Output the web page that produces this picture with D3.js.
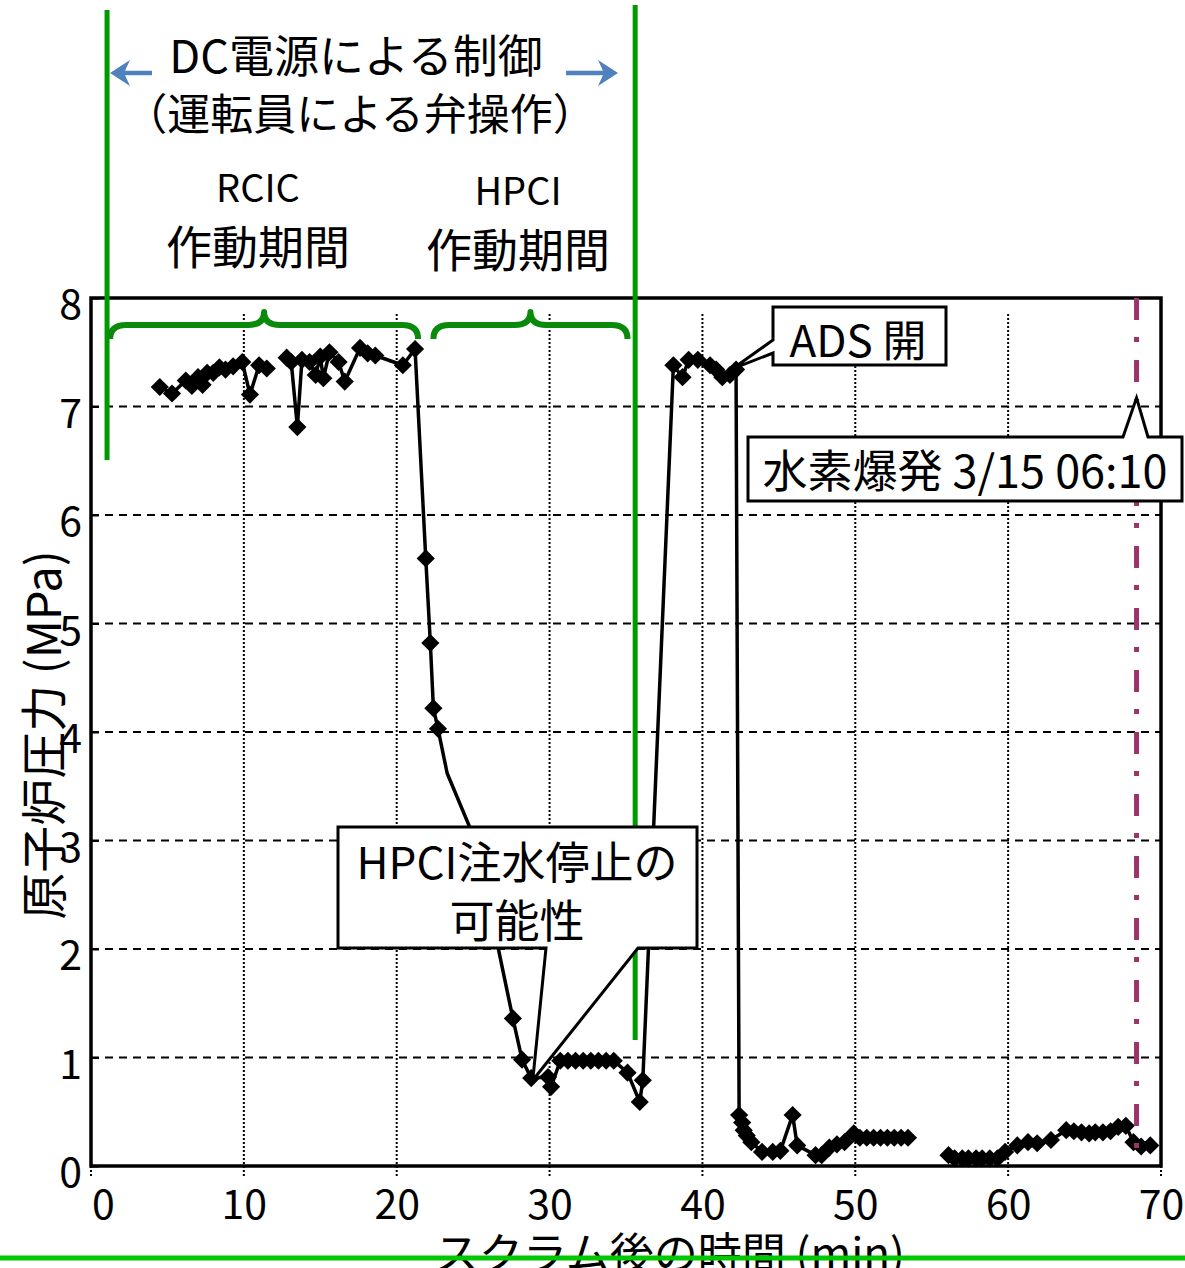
<!DOCTYPE html>
<html>
<head>
<meta charset="utf-8">
<script src="https://cdn.jsdelivr.net/npm/d3@7"></script>
<style>
  html, body { margin: 0; padding: 0; background: #fff; }
  svg { display: block; font-family: "Noto Sans CJK JP", "Noto Sans", sans-serif; }
</style>
</head>
<body>
<svg id="chart" width="1185" height="1268"></svg>
<script>
// Reactor pressure after scram: time (min) and pressure (MPa).
// A null pressure breaks the trace where no samples were recorded.
const minutes = [
  4.5, 5.3, 6.2, 6.6, 7.0, 7.3, 7.6, 8.0, 8.4, 8.8, 9.3, 9.9, 10.4, 11.0, 11.5,
  12.1,
  12.8, 13.1, 13.5, 13.8, 14.3, 14.7, 15.0, 15.2, 15.6, 16.2, 16.6, 17.6, 18.1, 18.6, 20.4, 21.2,
  21.9, 22.2, 22.4, 22.7, 23.3, 25.2, 27.6, 28.2, 28.8, 29.9, 30.1,
  30.7, 31.2, 31.7, 32.2, 32.7, 33.2, 33.7, 34.2,
  35.1, 35.9, 36.1,
  38.1, 38.7, 39.1, 39.7, 40.5, 40.9, 41.3, 41.8, 42.2,
  42.4, 42.6, 42.7, 42.9, 43.2, 43.9, 44.6, 45.1, 45.9, 46.2, 47.4, 47.8, 48.3, 48.8, 49.3, 49.9,
  50.3, 50.75, 51.2, 51.65, 52.1, 52.55, 53.0, 53.45,
  54.8,
  56.1, 56.5, 57.0, 57.4, 57.9, 58.3, 58.8, 59.3,
  59.8, 60.6, 61.3, 61.9, 62.8, 63.8,
  64.3, 64.8, 65.3, 65.7, 66.2, 66.7, 67.2, 67.7,
  68.2, 68.7, 69.3
];
const pressure = [
  7.18, 7.12, 7.24, 7.19, 7.27, 7.20, 7.31, 7.31, 7.36, 7.34, 7.37, 7.41, 7.11, 7.38, 7.35,
  null,
  7.45, 7.41, 6.81, 7.43, 7.41, 7.29, 7.46, 7.26, 7.50, 7.41, 7.23, 7.54, 7.49, 7.47, 7.38, 7.53,
  5.60, 4.82, 4.22, 4.03, 3.62, 2.98, 1.36, 0.98, 0.81, 0.82, 0.73,
  0.97, 0.97, 0.97, 0.97, 0.97, 0.97, 0.97, 0.97,
  0.86, 0.59, 0.79,
  7.38, 7.27, 7.43, 7.43, 7.38, 7.34, 7.27, 7.29, 7.34,
  0.47, 0.40, 0.33, 0.28, 0.22, 0.13, 0.13, 0.14, 0.47, 0.19, 0.10, 0.10, 0.17, 0.20, 0.22, 0.30,
  0.26, 0.26, 0.26, 0.26, 0.26, 0.26, 0.26, 0.26,
  null,
  0.10, 0.07, 0.07, 0.07, 0.07, 0.07, 0.07, 0.07,
  0.13, 0.19, 0.22, 0.21, 0.24, 0.33,
  0.32, 0.31, 0.30, 0.31, 0.31, 0.32, 0.36, 0.37,
  0.22, 0.18, 0.19
];
// Samples on the trace that carry no marker
const unmarkedMinutes = [23.3, 25.2];

// Axis ticks
const xTicks = [0, 10, 20, 30, 40, 50, 60, 70];
const yTicks = [0, 1, 2, 3, 4, 5, 6, 7, 8];

// Annotated periods (min)
const dcControlSpan = [1.05, 35.6];
const rcicSpan = [1.25, 21.4];
const hpciSpan = [22.4, 35.1];
const explosionMinute = 68.4;
const adsMinute = 42.0, adsPressure = 7.35;
const hpciStopMinute = 28.9, hpciStopPressure = 0.79;
const explosionTipPressure = 7.08;

const svg = d3.select("#chart");
const x = d3.scaleLinear().domain([0, 70]).range([91, 1161]);
const y = d3.scaleLinear().domain([0, 8]).range([1166, 298]);

const rows = minutes.map((m, i) => ({ m, p: pressure[i] }));

// Grid: dashed horizontal, dotted vertical
const grid = svg.append("g");
grid.selectAll("line.h").data(yTicks.filter(v => v > 0 && v < 8)).join("line")
  .attr("x1", x(0)).attr("x2", x(70))
  .attr("y1", d => y(d)).attr("y2", d => y(d))
  .attr("stroke", "#000").attr("stroke-width", 2).attr("stroke-dasharray", "8,6");
grid.selectAll("line.v").data(xTicks).join("line")
  .attr("x1", d => x(d)).attr("x2", d => x(d))
  .attr("y1", 314).attr("y2", 1178)
  .attr("stroke", "#000").attr("stroke-width", 2).attr("stroke-dasharray", "2,2");

// Plot frame
svg.append("rect")
  .attr("x", x(0)).attr("y", y(8))
  .attr("width", x(70) - x(0)).attr("height", y(0) - y(8))
  .attr("fill", "none").attr("stroke", "#000").attr("stroke-width", 3.5);

// Axes
const yAxis = svg.append("g").attr("transform", `translate(${x(0)},0)`)
  .call(d3.axisLeft(y).tickValues(yTicks).tickSize(-8).tickPadding(9).tickFormat(d3.format("d")));
yAxis.select(".domain").remove();
yAxis.selectAll(".tick line").attr("stroke", "#000").attr("stroke-width", 2);
yAxis.selectAll(".tick text").attr("font-size", 41).attr("fill", "#000")
  .attr("font-family", "'Noto Sans CJK JP', sans-serif").attr("dy", "0.5em");

const xAxis = svg.append("g").attr("transform", `translate(0,${y(0)})`)
  .call(d3.axisBottom(x).tickValues(xTicks).tickSize(0).tickPadding(24).tickFormat(d3.format("d")));
xAxis.select(".domain").remove();
xAxis.selectAll(".tick text").attr("font-size", 41).attr("fill", "#000")
  .attr("font-family", "'Noto Sans CJK JP', sans-serif")
  .attr("dx", d => d === 0 ? 12 : 0);

// Pressure trace
const line = d3.line().defined(d => d.p !== null).x(d => x(d.m)).y(d => y(d.p));
svg.append("path").datum(rows).attr("d", line)
  .attr("fill", "none").attr("stroke", "#000").attr("stroke-width", 3.5)
  .attr("stroke-linejoin", "round");

const diamond = d3.symbol().type(d3.symbolSquare).size(165);
svg.append("g").selectAll("path")
  .data(rows.filter(d => d.p !== null && !unmarkedMinutes.includes(d.m)))
  .join("path")
  .attr("d", diamond)
  .attr("transform", d => `translate(${x(d.m)},${y(d.p)}) rotate(45)`)
  .attr("fill", "#000");

// Hydrogen explosion time marker
svg.append("line")
  .attr("x1", x(explosionMinute)).attr("x2", x(explosionMinute))
  .attr("y1", y(8)).attr("y2", y(0))
  .attr("stroke", "#9b3468").attr("stroke-width", 5)
  .attr("stroke-dasharray", "22,17,5,18");

// DC power control period boundaries
const green = "#009a00";
svg.append("line").attr("x1", x(dcControlSpan[0])).attr("x2", x(dcControlSpan[0]))
  .attr("y1", 10).attr("y2", 460).attr("stroke", green).attr("stroke-width", 5);
svg.append("line").attr("x1", x(dcControlSpan[1])).attr("x2", x(dcControlSpan[1]))
  .attr("y1", 5).attr("y2", 1040).attr("stroke", green).attr("stroke-width", 5);

// Curly braces over RCIC / HPCI operating periods
function brace(x1, x2, yEnd, yMid, yPeak, r) {
  const xm = (x1 + x2) / 2;
  return `M${x1},${yEnd} Q${x1},${yMid} ${x1 + r},${yMid} L${xm - r},${yMid} ` +
         `Q${xm},${yMid} ${xm},${yPeak} Q${xm},${yMid} ${xm + r},${yMid} ` +
         `L${x2 - r},${yMid} Q${x2},${yMid} ${x2},${yEnd}`;
}
[rcicSpan, hpciSpan].forEach(s => {
  svg.append("path").attr("d", brace(x(s[0]), x(s[1]), 339, 325, 312, 16))
    .attr("fill", "none").attr("stroke", "#0a8a0a").attr("stroke-width", 6)
    .attr("stroke-linejoin", "round");
});

// Blue arrows beside the heading
const blue = "#4f81bd";
function arrow(xTail, xTip, yy) {
  const dir = Math.sign(xTip - xTail);
  const back = xTip - dir * 20, notch = xTip - dir * 14;
  svg.append("line").attr("x1", xTail).attr("x2", notch).attr("y1", yy).attr("y2", yy)
    .attr("stroke", blue).attr("stroke-width", 4.5);
  svg.append("path")
    .attr("d", `M${xTip},${yy} L${back},${yy - 13} L${notch},${yy} L${back},${yy + 13} Z`)
    .attr("fill", blue);
}
arrow(152, 110, 73);
arrow(566, 618, 73);

// Callouts
const callout = (d) => svg.append("path").attr("d", d)
  .attr("fill", "#fff").attr("stroke", "#000").attr("stroke-width", 3).attr("stroke-linejoin", "miter");

const hx = x(hpciStopMinute), hy = y(hpciStopPressure);
callout(`M338,827 H697 V948 H638 L${hx},${hy} L546,948 H338 Z`);

const ax = x(adsMinute), ay = y(adsPressure);
callout(`M773,307 H946 V365 H773 V353 L${ax},${ay} L773,340 Z`);

const ex = x(explosionMinute), ey = y(explosionTipPressure);
callout(`M748,437 H1123 L${ex},${ey} L1148,437 H1182 V501 H748 Z`);

// Text
function label(txt, cx, cy, size, anchor) {
  svg.append("text").attr("x", cx).attr("y", cy)
    .attr("text-anchor", anchor || "middle").attr("dominant-baseline", "central")
    .attr("font-size", size).attr("fill", "#000").text(txt);
}
label("DC電源による制御", 356, 53, 45);
label("（運転員による弁操作）", 360, 111, 43);
label("RCIC", 258, 185, 38);
label("作動期間", 258, 244, 46);
label("HPCI", 518, 188, 38);
label("作動期間", 518, 247, 46);
label("ADS 開", 858, 338, 44);
label("水素爆発 3/15 06:10", 965, 468, 45);
label("HPCI注水停止の", 517, 860, 44);
label("可能性", 517, 918, 45);

// Axis titles
svg.append("text")
  .attr("transform", "translate(40,735) rotate(-90)")
  .attr("text-anchor", "middle").attr("dominant-baseline", "central")
  .attr("font-size", 47).attr("fill", "#000").text("原子炉圧力 (MPa)");
svg.append("text").attr("x", 670).attr("y", 1251)
  .attr("text-anchor", "middle").attr("dominant-baseline", "central")
  .attr("font-size", 44).attr("fill", "#000").text("スクラム後の時間 (min)");

// Bottom rule
svg.append("line").attr("x1", 0).attr("x2", 1185).attr("y1", 1258).attr("y2", 1258)
  .attr("stroke", "#00c800").attr("stroke-width", 5);
</script>
</body>
</html>
